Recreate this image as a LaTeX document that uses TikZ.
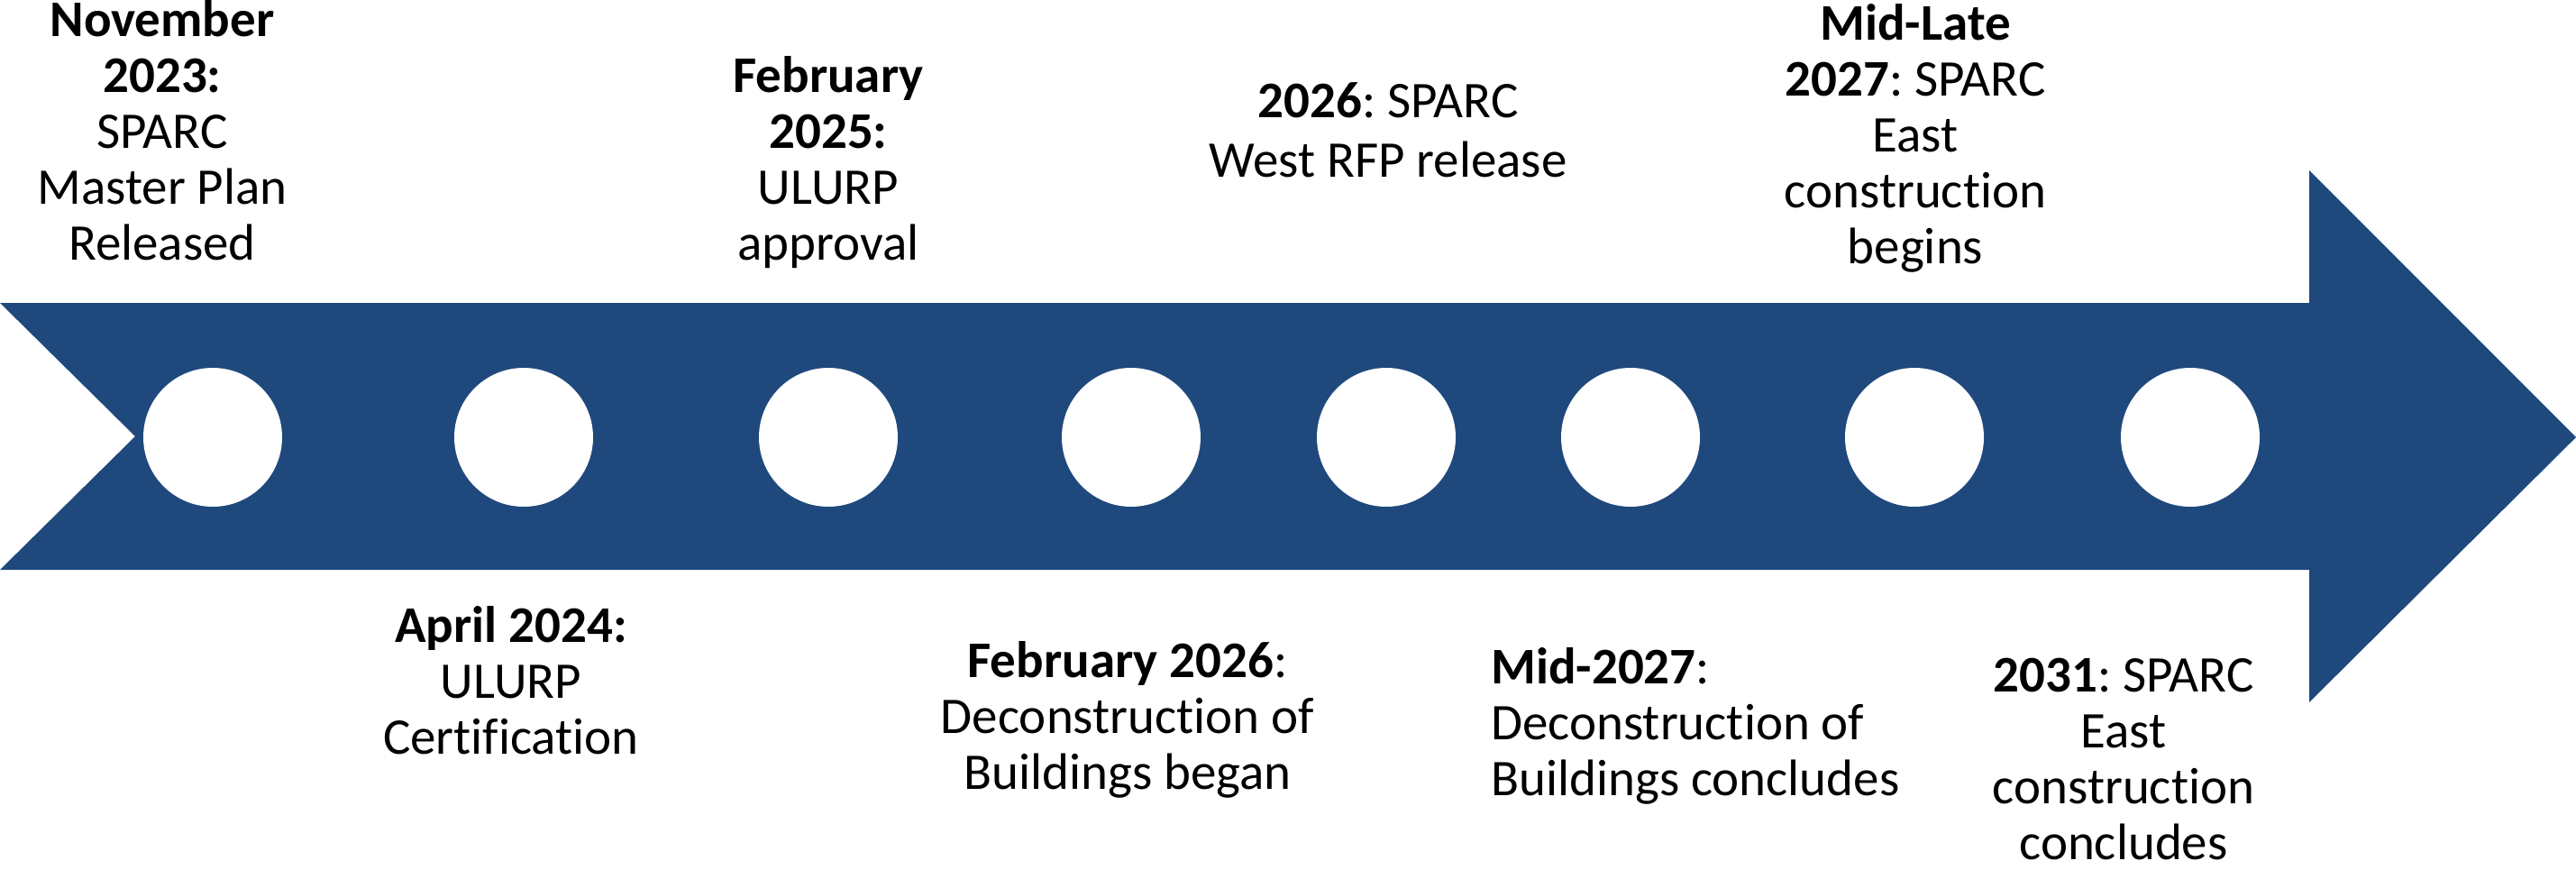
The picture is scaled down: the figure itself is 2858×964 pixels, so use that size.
\documentclass[tikz,border=0pt]{standalone}
\usepackage{fontspec}
\setmainfont{Carlito}[Ligatures=CommonOff]
\definecolor{arrowblue}{HTML}{1F497D}
\frenchspacing
\begin{document}
\begin{tikzpicture}[x=1pt,y=-1pt,
  dot/.style={circle,fill=white,minimum size=154pt,inner sep=0pt},
  lbl/.style={font=\fontsize{57}{62}\selectfont,align=center,inner sep=0pt,anchor=base}]
\useasboundingbox (0,0) rectangle (2858,964);
\fill[arrowblue] (0,336) -- (2562,336) -- (2562,189) -- (2858,485) -- (2562,779) -- (2562,632) -- (0,632) -- (150,484) -- cycle;
\foreach \i/\x in {1/236,2/581,3/919,4/1255,5/1538,6/1809,7/2124,8/2430}
  \node[dot] (c\i) at (\x,485) {};
% last-line baselines are used as anchors
\node[lbl] (t1) at (180,288) {\textbf{November}\\\textbf{2023:}\\SPARC\\Master Plan\\Released};
\node[lbl] (t2) at (919,288) {\textbf{February}\\\textbf{2025:}\\ULURP\\approval};
\node[lbl] (t3) at (1540,196) {\textbf{2026}: SPARC\\[4pt]West RFP release};
\node[lbl] (t4) at (2125,292) {\textbf{Mid-Late}\\\textbf{2027}: SPARC\\East\\construction\\begins};
\node[lbl] (b1) at (567,836) {\textbf{April 2024:}\\ULURP\\Certification};
\node[lbl] (b2) at (1251,875) {\textbf{February 2026}:\\Deconstruction of\\Buildings began};
\node[lbl,align=left,anchor=base west] (b3) at (1654,882) {\textbf{Mid-2027}:\\Deconstruction of\\Buildings concludes};
\node[lbl] (b4) at (2356,953) {\textbf{2031}: SPARC\\East\\construction\\concludes};
\end{tikzpicture}
\end{document}
